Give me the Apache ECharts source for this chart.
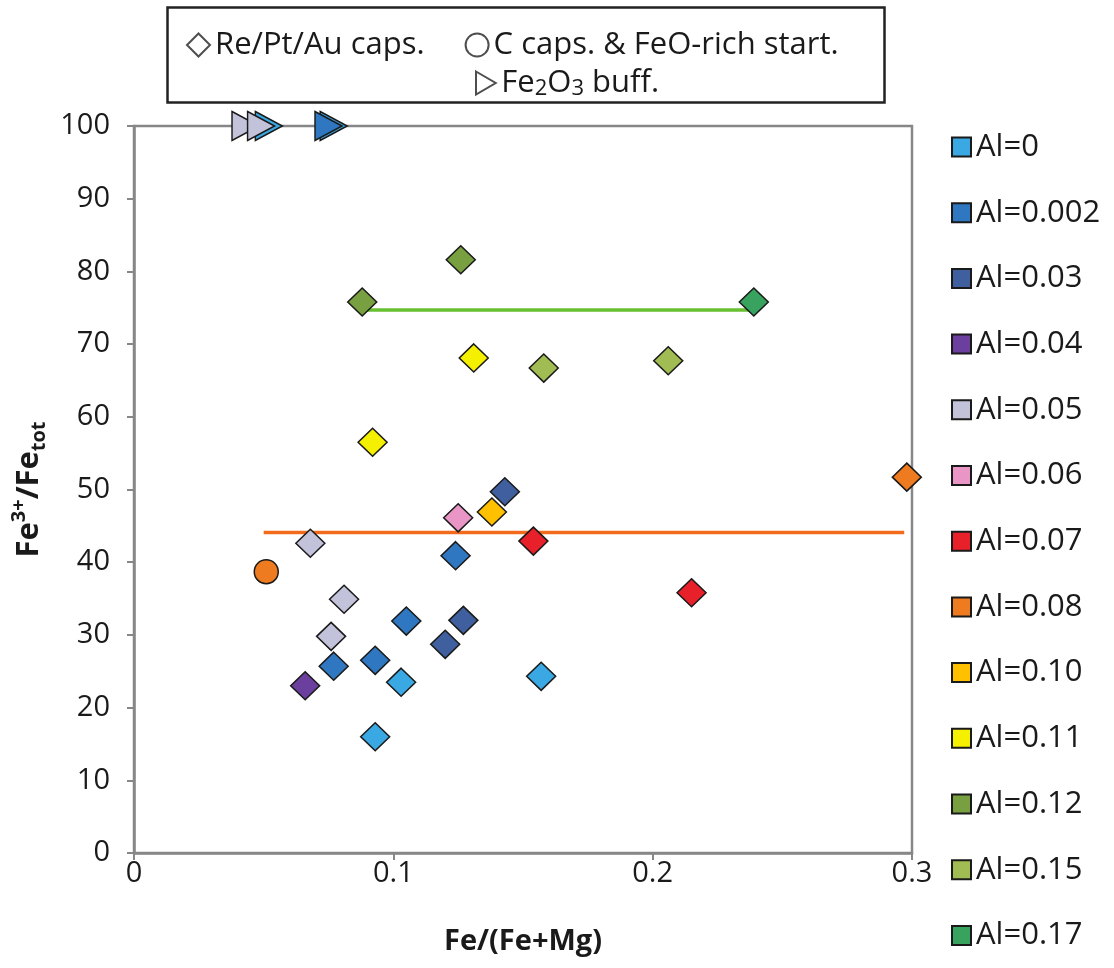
<!DOCTYPE html>
<html>
<head>
<meta charset="utf-8">
<script src="https://cdn.jsdelivr.net/npm/echarts@6/dist/echarts.min.js"></script>
<style>
  html, body { margin: 0; padding: 0; background: #fff; }
  #chart { width: 1114px; height: 968px; }
</style>
</head>
<body>
<div id="chart"></div>
<script>
// series names (Al content)
const alNames = ['Al=0', 'Al=0.002', 'Al=0.03', 'Al=0.04', 'Al=0.05', 'Al=0.06', 'Al=0.07',
  'Al=0.08', 'Al=0.10', 'Al=0.11', 'Al=0.12', 'Al=0.15', 'Al=0.17'];

// Re/Pt/Au capsules (diamonds): [Fe/(Fe+Mg), Fe3+/Fetot]
const al0 = [[0.093, 16.0], [0.103, 23.5], [0.157, 24.3]];
const al002 = [[0.077, 25.7], [0.093, 26.5], [0.105, 31.9], [0.124, 40.9]];
const al03 = [[0.120, 28.7], [0.127, 32.0], [0.143, 49.7]];
const al04 = [[0.066, 23.0]];
const al05 = [[0.076, 29.8], [0.081, 34.9], [0.068, 42.6]];
const al06 = [[0.125, 46.1]];
const al07 = [[0.154, 42.9], [0.215, 35.8]];
const al08 = [[0.298, 51.7]];
const al10 = [[0.138, 46.9]];
const al11 = [[0.092, 56.5], [0.131, 68.1]];
const al12 = [[0.088, 75.8], [0.126, 81.6]];
const al15 = [[0.158, 66.7], [0.206, 67.7]];
const al17 = [[0.239, 75.8]];

// C capsules & FeO-rich starting material (circles)
const cCaps = [[0.051, 38.7, 'Al=0.08']];
// Fe2O3 buffered (triangles)
const buffered = [[0.052, 100, 'Al=0'], [0.077, 100, 'Al=0'], [0.075, 100, 'Al=0.002'],
  [0.043, 100, 'Al=0.05'], [0.049, 100, 'Al=0.05']];

// horizontal mean lines
const meanLow = [[0.050, 44.1], [0.297, 44.1]];
const meanHigh = [[0.088, 74.7], [0.239, 74.7]];

// axis ticks
const xTicks = [0, 0.1, 0.2, 0.3];
const yTicks = [0, 10, 20, 30, 40, 50, 60, 70, 80, 90, 100];

const diamonds = [al0, al002, al03, al04, al05, al06, al07, al08, al10, al11, al12, al15, al17];
const alColors = ['#3AA8E2', '#2F77C0', '#3F5F9F', '#6A3F9E', '#C2C2DA', '#E996C6', '#E8202A',
  '#EE7B1F', '#FFC000', '#F5EF00', '#78A040', '#A0BC52', '#38A35E'];

const FONT = 'Open Sans';
const INK = '#1a1a1a';
const triPath = 'path://M0,0L12,7L0,14Z';

const series = [
  {
    type: 'line', name: 'meanLow', data: meanLow, symbol: 'none', silent: true,
    lineStyle: { color: '#F26B1D', width: 3.5 }, z: 1
  },
  {
    type: 'line', name: 'meanHigh', data: meanHigh, symbol: 'none', silent: true,
    lineStyle: { color: '#66C02F', width: 3.5 }, z: 1
  },
  // legend-only series for the marker shapes
  { type: 'scatter', name: 'Re/Pt/Au caps.', data: [], symbol: 'diamond',
    itemStyle: { color: '#fff', borderColor: '#222', borderWidth: 1.8 } },
  { type: 'scatter', name: 'C caps. & FeO-rich start.', data: [], symbol: 'circle',
    itemStyle: { color: '#fff', borderColor: '#222', borderWidth: 1.8 } },
  { type: 'scatter', name: 'Fe2O3 buff.', data: [], symbol: triPath,
    itemStyle: { color: '#fff', borderColor: '#222', borderWidth: 1.8 } }
];

alNames.forEach((name, i) => {
  const data = diamonds[i].map(p => ({ value: p }));
  cCaps.filter(p => p[2] === name).forEach(p => {
    data.push({ value: [p[0], p[1]], symbol: 'circle', symbolSize: 24 });
  });
  buffered.filter(p => p[2] === name).forEach(p => {
    data.push({ value: [p[0], p[1]], symbol: triPath, symbolSize: [27, 29] });
  });
  series.push({
    type: 'scatter',
    name: name,
    data: data,
    symbol: 'diamond',
    symbolSize: [29, 28],
    itemStyle: { color: alColors[i], borderColor: INK, borderWidth: 1.5, opacity: 1 },
    z: 3
  });
});

const chart = echarts.init(document.getElementById('chart'), null, { renderer: 'canvas' });

chart.setOption({
  backgroundColor: '#fff',
  animation: false,
  grid: {
    left: 134, right: 202, top: 126, bottom: 115,
    show: true, borderColor: '#878787', borderWidth: 2.5
  },
  xAxis: {
    type: 'value', min: xTicks[0], max: xTicks[xTicks.length - 1], interval: 0.1,
    name: 'Fe/(Fe+Mg)', nameLocation: 'middle', nameGap: 74,
    nameTextStyle: { fontFamily: FONT, fontSize: 29, fontWeight: 'bold', color: INK },
    axisLine: { lineStyle: { color: '#878787', width: 2.5 } },
    axisTick: { show: true, length: 7, lineStyle: { color: '#878787', width: 2 } },
    axisLabel: { fontFamily: FONT, fontSize: 29, color: INK, margin: 6 },
    splitLine: { show: false }
  },
  yAxis: {
    type: 'value', min: yTicks[0], max: yTicks[yTicks.length - 1], interval: 10,
    name: '{b|Fe}{sup|3+}{b|/Fe}{sub|tot}', nameLocation: 'middle', nameGap: 84,
    nameRotate: 90,
    nameTextStyle: {
      fontFamily: FONT, fontSize: 31, fontWeight: 'bold', color: INK,
      rich: {
        b: { fontFamily: FONT, fontSize: 31, fontWeight: 'bold', color: INK, lineHeight: 40 },
        sup: { fontFamily: FONT, fontSize: 20, fontWeight: 'bold', color: INK, verticalAlign: 'top', lineHeight: 22 },
        sub: { fontFamily: FONT, fontSize: 20, fontWeight: 'bold', color: INK, verticalAlign: 'bottom', lineHeight: 22 }
      }
    },
    axisLine: { lineStyle: { color: '#878787', width: 2.5 } },
    axisTick: { show: true, length: 7, lineStyle: { color: '#878787', width: 2 } },
    axisLabel: { fontFamily: FONT, fontSize: 29, color: INK, margin: 24 },
    splitLine: { show: false }
  },
  legend: [
    {
      data: alNames,
      orient: 'vertical',
      left: 946, top: 126,
      icon: 'rect', itemWidth: 19, itemHeight: 19, itemGap: 33.7,
      textStyle: { fontFamily: FONT, fontSize: 31, color: INK, lineHeight: 32 }
    },
    {
      data: ['Re/Pt/Au caps.', 'C caps. & FeO-rich start.'],
      orient: 'horizontal',
      left: 181, top: 23, itemGap: 40,
      itemWidth: 23, itemHeight: 23,
      textStyle: { fontFamily: FONT, fontSize: 31, color: INK, lineHeight: 34 }
    },
    {
      data: ['Fe2O3 buff.'],
      orient: 'horizontal',
      left: 470, top: 61,
      itemWidth: 21, itemHeight: 23,
      formatter: () => '{n|Fe}{s|2}{n|O}{s|3}{n| buff.}',
      textStyle: {
        fontFamily: FONT, fontSize: 31, color: INK, lineHeight: 34,
        rich: {
          n: { fontFamily: FONT, fontSize: 31, color: INK, lineHeight: 34 },
          s: { fontFamily: FONT, fontSize: 22, color: INK, lineHeight: 28, verticalAlign: 'bottom' }
        }
      }
    }
  ],
  graphic: [
    {
      type: 'rect', left: 165, top: 5, z: -1,
      shape: { width: 717, height: 95 },
      style: { fill: 'none', stroke: '#222', lineWidth: 2.5 }
    }
  ],
  series: series
});
</script>
</body>
</html>
